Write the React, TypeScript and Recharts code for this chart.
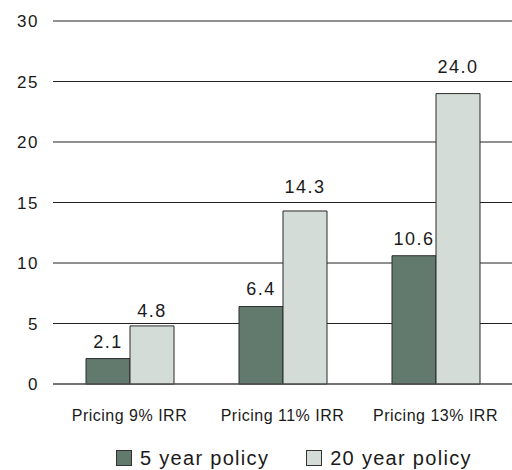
import { BarChart, Bar, XAxis, YAxis, CartesianGrid, Legend, LabelList } from 'recharts';

const categories = ['Pricing 9% IRR', 'Pricing 11% IRR', 'Pricing 13% IRR'];
const fiveYear = [2.1, 6.4, 10.6];
const twentyYear = [4.8, 14.3, 24.0];
const yTicks = [0, 5, 10, 15, 20, 25, 30];

// how far each value label sits above its bar
const fiveLift = [11, 12, 11];
const twentyLift = [9, 18, 21];

const DARK = '#627a6e';
const LIGHT = '#d3dcd6';
const FONT = '"Liberation Sans", Arial, sans-serif';

const data = categories.map((name, i) => ({
  name,
  five: fiveYear[i],
  twenty: twentyYear[i],
}));

const legendItems = [
  { label: '5 year policy', color: DARK },
  { label: '20 year policy', color: LIGHT },
];

function PolicyLegend() {
  return (
    <div style={{ display: 'flex', gap: 37, fontFamily: FONT, fontSize: 20, lineHeight: '22px', color: '#1a1a1a', letterSpacing: 1.3, paddingLeft: 116, paddingTop: 17 }}>
      {legendItems.map(item => (
        <div key={item.label} style={{ display: 'flex', alignItems: 'center' }}>
          <span style={{ width: 14, height: 14, background: item.color, border: '1px solid #333', marginRight: 8, display: 'inline-block' }} />
          {item.label}
        </div>
      ))}
    </div>
  );
}

const valueLabel = (lift: number[]) => (props: any) => {
  const { x, y, width, value, index } = props;
  return (
    <text
      x={x + width / 2}
      y={y - lift[index]}
      textAnchor="middle"
      style={{ fontFamily: FONT, fontSize: 18, fill: '#1a1a1a', letterSpacing: 1.5 }}
    >
      {Number(value).toFixed(1)}
    </text>
  );
};

export default function App() {
  return (
    <div style={{ position: 'absolute', left: 0, top: 0, width: 512, height: 470, background: '#fff' }}>
      <BarChart
        width={512}
        height={470}
        data={data}
        margin={{ top: 21, right: 0, left: 0, bottom: 0 }}
        barGap={0}
        barSize={44}
      >
        <CartesianGrid vertical={false} stroke="#222" strokeOpacity={1} />
        <XAxis
          dataKey="name"
          axisLine={{ stroke: '#555' }}
          tickLine={false}
          height={46}
          tickMargin={20}
          tick={{ fontFamily: FONT, fontSize: 16, fill: '#1a1a1a', letterSpacing: 0.5 }}
        />
        <YAxis
          width={53}
          domain={[0, 30]}
          ticks={yTicks}
          axisLine={false}
          tickLine={false}
          tickMargin={8}
          tick={{ fontFamily: FONT, fontSize: 17, fill: '#1a1a1a', letterSpacing: 1.5 }}
        />
        <Legend verticalAlign="bottom" height={40} content={<PolicyLegend />} />
        <Bar dataKey="five" fill={DARK} stroke="#2a2a2a" strokeWidth={1} isAnimationActive={false}>
          <LabelList dataKey="five" content={valueLabel(fiveLift)} />
        </Bar>
        <Bar dataKey="twenty" fill={LIGHT} stroke="#2a2a2a" strokeWidth={1} isAnimationActive={false}>
          <LabelList dataKey="twenty" content={valueLabel(twentyLift)} />
        </Bar>
      </BarChart>
    </div>
  );
}
